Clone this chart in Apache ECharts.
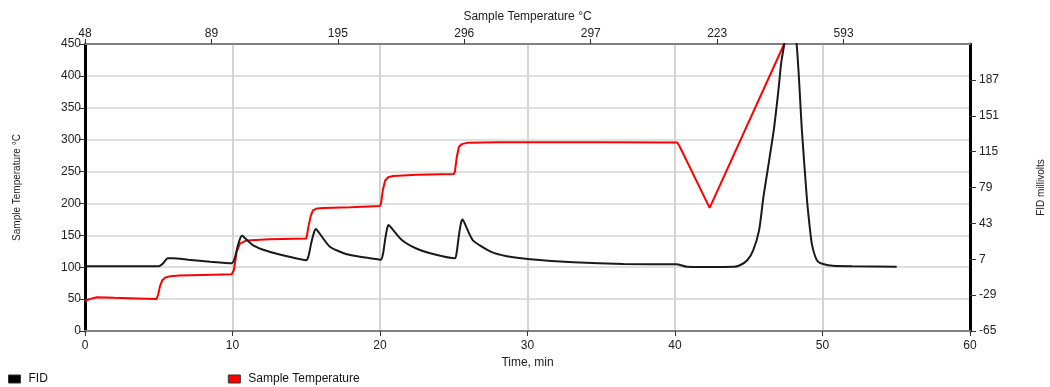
<!DOCTYPE html>
<html>
<head>
<meta charset="utf-8">
<script src="https://cdn.jsdelivr.net/npm/echarts@6/dist/echarts.min.js"></script>
<style>
  html, body { margin: 0; padding: 0; background: #fff; }
  #myChart { width: 1050px; height: 387px; }
</style>
</head>
<body>
<div id="myChart"></div>
<script>
  // top axis labels (sample temperature at evenly spaced marks)
  var topLabels = ['48', '89', '195', '296', '297', '223', '593', ''];

  // sample temperature, degC vs time, min
  var tempTime = [0, 0.3, 0.8, 2, 3.5, 4.85, 4.97, 5.08, 5.25, 5.45, 5.8, 6.4, 8, 9.95,
    10.1, 10.28, 10.5, 10.96, 12.5, 15.0,
    15.05, 15.15, 15.3, 15.45, 15.7, 16.2, 18, 20.0,
    20.07, 20.2, 20.35, 20.55, 20.9, 22.5, 25.0,
    25.08, 25.2, 25.35, 25.55, 25.9, 28, 35,
    40.15, 40.3, 42.35, 47.4];
  var tempValues = [47, 50, 53, 52, 51, 50, 58, 70, 80, 84, 86, 87, 88, 89,
    96, 124, 137, 142, 144, 145,
    150, 164, 180, 189, 192, 193, 194, 196,
    200, 222, 236, 241, 243, 245, 246,
    250, 272, 289, 293, 295, 296, 296,
    295.5, 290, 193, 450];

  // FID signal, millivolts vs time, min
  var fidTime = [0, 2, 4, 5.0, 5.3, 5.6, 6.0, 7, 8.5, 9.95,
    10.15, 10.35, 10.55, 10.67, 10.85, 11.4, 12.3, 13.7, 15.0,
    15.15, 15.35, 15.55, 15.66, 15.85, 16.6, 17.7, 18.9, 20.05,
    20.2, 20.35, 20.5, 20.58, 20.8, 21.5, 22.5, 23.8, 25.08,
    25.2, 25.35, 25.5, 25.6, 25.8, 26.3, 27.5, 28.6, 30.2, 33.1, 36.5, 40.1,
    40.8, 42, 44.0, 44.4, 44.9, 45.3, 45.7, 46.0, 46.35, 46.7, 47.0, 47.2, 47.4,
    47.8, 48.25, 48.6, 48.93, 49.1, 49.27, 49.5, 49.7, 50.1, 50.7, 52, 55.03];
  var fidValues = [0, 0, 0, 0, 3, 8, 8, 6.5, 4.5, 3,
    8, 20, 29, 30.5, 28, 21, 15.5, 10, 6,
    10, 24, 35, 37.4, 34, 19.6, 12.3, 9, 6.5,
    12, 27, 39, 41.4, 38, 26, 17.5, 11.5, 8,
    14, 31, 44, 47, 41, 26, 14.6, 10, 7, 4, 2.2, 2,
    -0.5, -0.7, -0.5, 1, 6, 16, 36, 70, 103, 137, 175, 204, 222,
    255, 222, 137, 70, 44, 23, 10, 4.5, 2, 0.5, 0, -0.5];

  // right axis runs -65..223, shifted so its ticks start at 0
  var fidOffset = 65;

  function pairs(xs, ys, shift) {
    var out = [];
    for (var i = 0; i < xs.length; i++) {
      out.push([xs[i], ys[i] + (shift || 0)]);
    }
    return out;
  }

  var font = "'Liberation Sans', Arial, sans-serif";
  var labelStyle = { color: '#222', fontSize: 12, fontFamily: font };

  var myChart = echarts.init(document.getElementById('myChart'));
  myChart.setOption({
    animation: false,
    textStyle: { fontFamily: font },
    grid: { left: 85, right: 80, top: 44, bottom: 56, outerBoundsMode: 'none', containLabel: false },
    legend: {
      data: ['FID', 'Sample Temperature'],
      left: 3,
      top: 368,
      icon: 'rect',
      itemWidth: 12,
      itemHeight: 8,
      itemGap: 180,
      itemStyle: { borderColor: '#333', borderWidth: 1 },
      textStyle: { color: '#111', fontSize: 12, fontFamily: font, padding: [0, 0, 0, 3] }
    },
    xAxis: [
      {
        type: 'value',
        position: 'bottom',
        min: 0,
        max: 60,
        interval: 10,
        name: 'Time, min',
        nameLocation: 'middle',
        nameGap: 19,
        nameTextStyle: labelStyle,
        axisLine: { onZero: false, lineStyle: { color: '#808080', width: 2 } },
        axisTick: { length: 5, lineStyle: { color: '#333', width: 1 } },
        axisLabel: Object.assign({ margin: 9 }, labelStyle),
        splitLine: { show: true, lineStyle: { color: '#d4d4d4', width: 2 } }
      },
      {
        type: 'category',
        position: 'top',
        data: topLabels,
        boundaryGap: false,
        name: 'Sample Temperature °C',
        nameLocation: 'middle',
        nameGap: 19,
        nameTextStyle: labelStyle,
        axisLine: { onZero: false, lineStyle: { color: '#808080', width: 2 } },
        axisTick: {
          length: 5,
          interval: function (i) { return i < topLabels.length - 1; },
          lineStyle: { color: '#333', width: 1 }
        },
        axisLabel: Object.assign({ margin: 4, interval: 0 }, labelStyle),
        splitLine: { show: false }
      }
    ],
    yAxis: [
      {
        type: 'value',
        position: 'left',
        min: 0,
        max: 450,
        interval: 50,
        name: 'Sample Temperature °C',
        nameLocation: 'middle',
        nameRotate: 90,
        nameGap: 63,
        nameTextStyle: { color: '#222', fontSize: 10, fontFamily: font },
        axisLine: { onZero: false, lineStyle: { color: '#000', width: 3 } },
        axisTick: { length: 6, lineStyle: { color: '#333', width: 1 } },
        axisLabel: Object.assign({ margin: 4 }, labelStyle),
        splitLine: { show: true, lineStyle: { color: '#d4d4d4', width: 1.5 } }
      },
      {
        type: 'value',
        position: 'right',
        min: 0,
        max: 288,
        interval: 36,
        name: 'FID millivolts',
        nameLocation: 'middle',
        nameRotate: 90,
        nameGap: 66,
        nameTextStyle: { color: '#222', fontSize: 10, fontFamily: font },
        axisLine: { onZero: false, lineStyle: { color: '#000', width: 3 } },
        axisTick: { length: 6, lineStyle: { color: '#333', width: 1 } },
        axisLabel: Object.assign({
          margin: 9,
          showMaxLabel: false,
          formatter: function (v) { return String(v - fidOffset); }
        }, labelStyle),
        splitLine: { show: false }
      }
    ],
    series: [
      {
        name: 'FID',
        type: 'line',
        xAxisIndex: 0,
        yAxisIndex: 1,
        z: 3,
        symbol: 'none',
        smooth: 0.2,
        data: pairs(fidTime, fidValues, fidOffset),
        itemStyle: { color: '#000' },
        lineStyle: { color: '#1a1a1a', width: 2 }
      },
      {
        name: 'Sample Temperature',
        type: 'line',
        xAxisIndex: 0,
        yAxisIndex: 0,
        z: 2,
        symbol: 'none',
        smooth: false,
        data: pairs(tempTime, tempValues),
        itemStyle: { color: '#ff0000' },
        lineStyle: { color: '#ff0000', width: 2 }
      }
    ]
  });
</script>
</body>
</html>
